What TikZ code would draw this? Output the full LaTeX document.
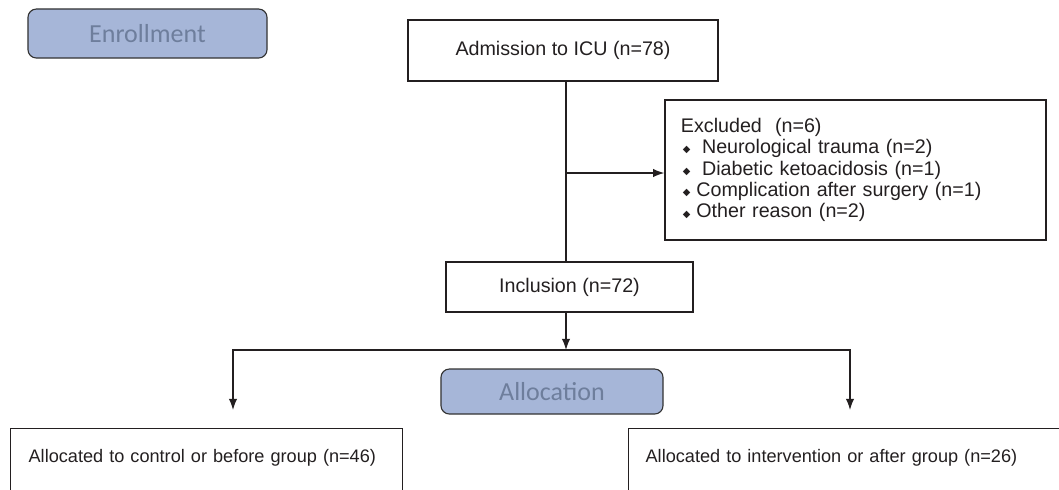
\documentclass[tikz,border=0pt]{standalone}
\usepackage{fontspec}
\setmainfont{Liberation Sans}
\newfontfamily\calfont{Carlito}
\newfontfamily\symfont{DejaVu Sans}
\usepackage{tikz}
\usetikzlibrary{arrows.meta, positioning, calc}
\definecolor{stagefill}{RGB}{166,182,216}
\definecolor{stagetext}{RGB}{110,126,156}
\definecolor{inkgray}{RGB}{35,31,32}
\tikzstyle{stage} = [rectangle, rounded corners=6pt, draw=black!80, fill=stagefill, text=stagetext, line width=0.8pt, font=\calfont\fontsize{18.5}{20}\selectfont]
\tikzstyle{process} = [rectangle, draw=inkgray, text=inkgray, line width=0.9pt, text centered, font=\fontsize{14}{16}\selectfont]
\tikzstyle{listbox} = [process, align=left, inner xsep=0.4cm, font=\fontsize{14}{15.2}\selectfont]
\tikzstyle{groupbox} = [process, anchor=north west, align=left, inner ysep=0.525cm, text depth=2.5cm, font=\fontsize{12.9}{14}\selectfont]
\tikzstyle{connector} = [line width=0.9pt, draw=inkgray]
\tikzstyle{arrow} = [connector, ->, >={Latex[length=8pt,width=6pt]}]
\newcommand{\dmd}{\hspace*{1.5pt}\makebox[5pt]{\raisebox{0.6pt}{\symfont\fontsize{7}{7}\selectfont ◆}}}

\begin{document}
\begin{tikzpicture}[x=0.025cm, y=-0.025cm]

\useasboundingbox (0,0) rectangle (1059,489);
\clip (0,0) rectangle (1059,489);

\node (enrol) [stage, minimum width=5.975cm, minimum height=1.225cm] at (147.5,33.5) {Enrollment};
\node (adm) [process, minimum width=7.75cm, minimum height=1.525cm] at (563,50.5) {Admission to ICU (n=78)};
\node (excl) [listbox, text width=8.725cm, minimum height=3.5cm] at (855.5,170) {Excluded\ \ (n=6)\\
\dmd\hspace*{8.5pt}Neurological trauma (n=2)\\
\dmd\hspace*{8.5pt}Diabetic ketoacidosis (n=1)\\
\dmd\hspace*{4.5pt}Complication after surgery (n=1)\\
\dmd\hspace*{4.5pt}Other reason (n=2)};
\node (incl) [process, minimum width=6.175cm, minimum height=1.25cm] at (569.5,287) {Inclusion (n=72)};
\node (alloc) [stage, minimum width=5.55cm, minimum height=1.125cm] at (552,391.5) {Allocation};
\node (ctrl) [groupbox, text width=8.9cm, inner xsep=0.45cm] at (10,428) {Allocated to control or before group (n=46)};
\node (intv) [groupbox, text width=10.65cm, inner xsep=0.425cm] at (628,428) {Allocated to intervention or after group (n=26)};

\coordinate (split) at (566,173);
\coordinate (fork) at (566,350);
\coordinate (lefttip) at (233,410);
\coordinate (righttip) at (850,410);

\draw [connector] (adm.south -| split) -- (incl.north -| split);
\draw [arrow] (split) -- (split -| excl.west);
\draw [arrow] (incl.south -| fork) -- (fork);
\draw [arrow] (fork) -| (lefttip);
\draw [arrow] (fork) -| (righttip);

\end{tikzpicture}
\end{document}
